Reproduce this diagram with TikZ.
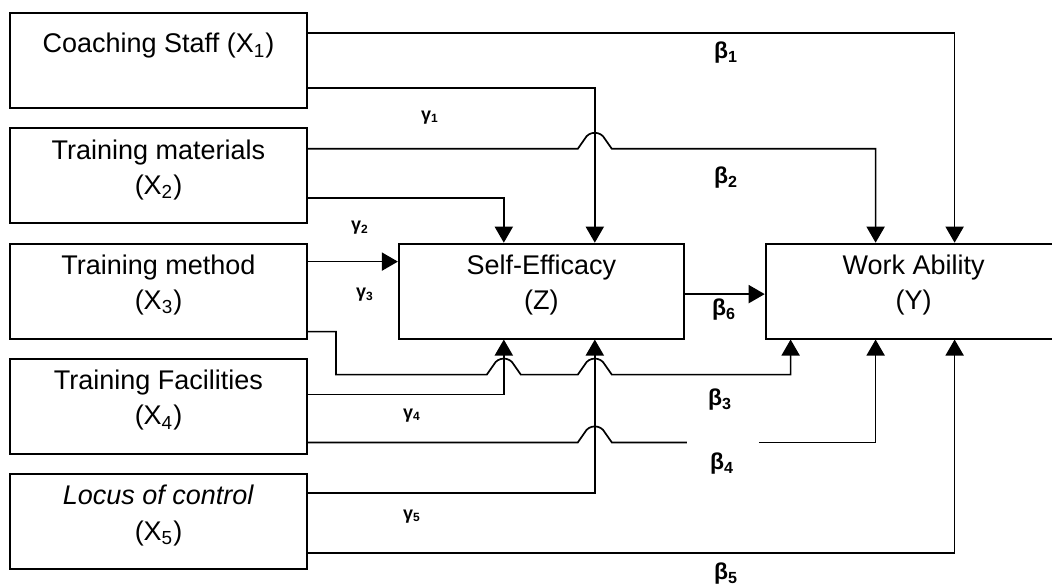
\documentclass[tikz,border=0pt]{standalone}
\usepackage{fontspec}
\setmainfont{Liberation Sans}
\usetikzlibrary{arrows.meta,calc,positioning}

\begin{document}
\begin{tikzpicture}[
  x=0.5pt,y=-0.5pt,
  every node/.style={font=\fontsize{13.5}{17.5}\selectfont},
  var/.style={draw,line width=0.9pt,minimum width=148.5pt,minimum height=47.5pt,align=center,inner sep=0pt},
  lift/.style={text depth=9pt},
  med/.style={var,lift,minimum width=142.5pt},
  coef/.style={font=\fontsize{11.5}{13}\selectfont\bfseries,inner sep=1pt},
  gam/.style={font=\fontsize{9}{11}\selectfont\bfseries,inner sep=1pt},
  line/.style={line width=0.85pt},
  arr/.style={line,-{Triangle[length=8pt,width=9pt]}},
  hopover/.style={insert path={-- ++(7,-10) .. controls +(4,-8) and +(-4,-8) .. ++(20,0) -- ++(7,10)}}
]
\useasboundingbox (0,0) rectangle (1052,585);
% variables
\node[var] (x1) at (158.5,60.5) {Coaching Staff (X\textsubscript{1})\\\mbox{}};
\node[var,lift,below=9.25pt of x1] (x2) {Training materials\\(X\textsubscript{2})};
\node[var,lift,below=9.25pt of x2] (x3) {Training method\\(X\textsubscript{3})};
\node[var,lift,below=9.25pt of x3] (x4) {Training Facilities\\(X\textsubscript{4})};
\node[var,lift,below=9.25pt of x4] (x5) {\textit{Locus of control}\\(X\textsubscript{5})};
\node[med,right=45pt of x3] (se) {Self-Efficacy\\(Z)};
\node[var,lift,minimum width=148pt,right=40pt of se] (wa) {Work Ability\\(Y)};
% columns
\coordinate (cA) at ($(se.north)+(-37.5,0)$);
\coordinate (cB) at ($(se.north)+(53.5,0)$);
\coordinate (dA) at ($(se.south)+(-37.5,0)$);
\coordinate (dB) at ($(se.south)+(53.5,0)$);
\coordinate (wN1) at ($(wa.north)+(-38,0)$);
\coordinate (wN2) at ($(wa.north)+(41,0)$);
\coordinate (wS1) at ($(wa.south)+(-123,0)$);
\coordinate (wS2) at ($(wa.south)+(-38,0)$);
\coordinate (wS3) at ($(wa.south)+(41,0)$);
% line starts
\coordinate (x1a) at ($(x1.east)+(0,-27.5)$);
\coordinate (x1b) at ($(x1.east)+(0,27.5)$);
\coordinate (x2a) at ($(x2.east)+(0,-27)$);
\coordinate (x2b) at ($(x2.east)+(0,22)$);
\coordinate (x3a) at ($(x3.east)+(0,-29.5)$);
\coordinate (x3b) at ($(x3.east)+(0,40.5)$);
\coordinate (x3c) at ($(x3b)+(28,43)$);
\coordinate (x4a) at ($(x4.east)+(0,-12)$);
\coordinate (x4b) at ($(x4.east)+(0,36)$);
\coordinate (x5a) at ($(x5.east)+(0,-28.5)$);
\coordinate (x5b) at ($(x5.east)+(0,31.5)$);
\coordinate (z1) at ($(se.east)+(0,3)$);
% paths
\draw[arr] (x1a) -| (wN2);
\draw[arr] (x1b) -| (cB);
\draw[arr] (x2a) -- ($(cB |- x2a)+(-17,0)$) [hopover] -| (wN1);
\draw[arr] (x2b) -| (cA);
\draw[arr] (x3a) -- (se.west |- x3a);
\draw[arr] (x3b) -| (x3c) -- ($(cA |- x3c)+(-17,0)$) [hopover] -- ($(cB |- x3c)+(-17,0)$) [hopover] -| (wS1);
\draw[arr] (x4a) -| (dA);
\draw[line] (x4b) -- ($(cB |- x4b)+(-17,0)$) [hopover] -- ($(x4b)+(379,0)$);
\draw[arr] ($(x4b)+(451,0)$) -| (wS2);
\draw[arr] (x5a) -| (dB);
\draw[arr] (x5b) -| (wS3);
\draw[arr] (z1) -- (wa.west |- z1);
% coefficients
\node[coef] (b1) at (726,53) {β\textsubscript{1}};
\node[coef] (b2) at (726,178) {β\textsubscript{2}};
\node[coef] (b6) at (724,310) {β\textsubscript{6}};
\node[coef] (b3) at (720,400) {β\textsubscript{3}};
\node[coef] (b4) at (722,464) {β\textsubscript{4}};
\node[coef] (b5) at (726,574) {β\textsubscript{5}};
\node[gam] (g1) at (430,118) {γ\textsubscript{1}};
\node[gam] (g2) at (360,228) {γ\textsubscript{2}};
\node[gam] (g3) at (365,295) {γ\textsubscript{3}};
\node[gam] (g4) at (412,416) {γ\textsubscript{4}};
\node[gam] (g5) at (412,517) {γ\textsubscript{5}};
\end{tikzpicture}
\end{document}
